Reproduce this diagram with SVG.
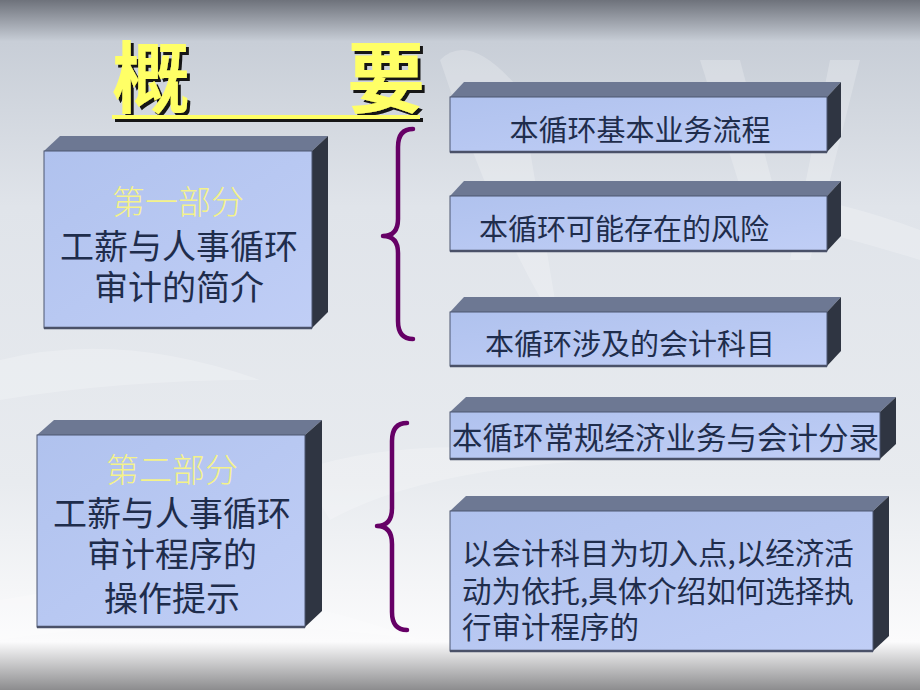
<svg xmlns="http://www.w3.org/2000/svg" width="920" height="690" viewBox="0 0 920 690">
<defs>
<linearGradient id="bg" x1="0" y1="0" x2="0" y2="1">
<stop offset="0" stop-color="#6e727b"/>
<stop offset="0.06" stop-color="#c8ced7"/>
<stop offset="0.3" stop-color="#e0e4ea"/>
<stop offset="0.7" stop-color="#e8ebef"/>
<stop offset="0.93" stop-color="#fbfbfc"/>
<stop offset="1" stop-color="#8c8c8e"/>
</linearGradient>
<linearGradient id="front" x1="0" y1="0" x2="1" y2="1">
<stop offset="0" stop-color="#b0c2ee"/>
<stop offset="1" stop-color="#c0cef6"/>
</linearGradient>
<filter id="shadow" x="-10%" y="-10%" width="130%" height="130%">
<feDropShadow dx="3" dy="3" stdDeviation="0.6" flood-color="#151515" flood-opacity="1"/>
</filter>
<style>
.front{fill:url(#front);stroke:#4c5670;stroke-width:1}
.top{fill:#6d7893}
.side{fill:#2f3542}
.edge{stroke:#4a5168;stroke-width:2.5}
.t{font-family:"Noto Sans CJK SC","Noto Sans",sans-serif;fill:#1f2d4c}
.y{font-family:"Noto Sans CJK SC","Noto Sans",sans-serif;fill:#f4f28a;font-weight:300}
.brace{fill:none;stroke:#660066;stroke-width:4.5;stroke-linecap:round;stroke-linejoin:round}
.leaf{fill:#ffffff;opacity:0.22}
</style>
</defs>
<rect width="920" height="690" fill="url(#bg)"/>
<g id="background-shapes">
<path class="leaf" d="M440,60 Q470,30 520,90 L560,330 Q500,240 440,60 Z"/>
<path class="leaf" d="M600,190 Q760,170 920,230 L920,260 Q760,210 600,190 Z"/>
<path class="leaf" d="M700,60 L760,250 L790,250 L740,60 Z"/>
<path class="leaf" d="M830,60 L790,260 L810,260 L860,60 Z"/>
<path class="leaf" d="M0,360 Q120,330 260,380 Q120,380 0,400 Z"/>
<path class="leaf" d="M300,470 Q420,430 600,460 Q420,470 330,520 Z"/>
<path class="leaf" d="M0,600 Q200,560 420,640 Q200,610 0,640 Z"/>
</g>
<g id="title" filter="url(#shadow)" fill="#ffff66">
<text x="112" y="107" font-family="Noto Sans CJK SC, sans-serif" font-size="78" font-weight="700">概</text>
<text x="347" y="107" font-family="Noto Sans CJK SC, sans-serif" font-size="78" font-weight="700">要</text>
<rect x="112" y="115" width="308" height="4"/>
</g>
<g id="part1">
<polygon class="top" points="44,151 60,136 328,136 312,151"/>
<polygon class="side" points="312,151 328,136 328,312 312,328"/>
<rect class="front" x="44" y="151" width="268" height="177"/>
<line class="edge" x1="44" y1="328" x2="312" y2="328"/>
<text class="y" x="178" y="214" font-size="33" text-anchor="middle">第一部分</text>
<text class="t" x="179" y="259" font-size="34" text-anchor="middle">工薪与人事循环</text>
<text class="t" x="179" y="300" font-size="34" text-anchor="middle">审计的简介</text>
</g>
<g id="part2">
<polygon class="top" points="37,435 54,420 322,420 305,435"/>
<polygon class="side" points="305,435 322,420 322,611 305,627"/>
<rect class="front" x="37" y="435" width="268" height="192"/>
<line class="edge" x1="37" y1="627" x2="305" y2="627"/>
<text class="y" x="172" y="482" font-size="33" text-anchor="middle">第二部分</text>
<text class="t" x="172" y="526" font-size="34" text-anchor="middle">工薪与人事循环</text>
<text class="t" x="172" y="567" font-size="34" text-anchor="middle">审计程序的</text>
<text class="t" x="172" y="611" font-size="34" text-anchor="middle">操作提示</text>
</g>
<g id="connectors">
<path class="brace" d="M413,129 Q398,129 398,147 L398,219 Q398,236 383,236 Q398,236 398,253 L398,321 Q398,339 413,339"/>
<path class="brace" d="M407,423 Q392,423 392,441 L392,508 Q392,526 377,526 Q392,526 392,544 L392,612 Q392,630 407,630"/>
</g>
<g id="item1">
<polygon class="top" points="450,97 464,82 841,82 827,97"/>
<polygon class="side" points="827,97 841,82 841,137 827,152"/>
<rect class="front" x="450" y="97" width="377" height="55"/>
<line class="edge" x1="450" y1="152" x2="827" y2="152"/>
<text class="t" x="640" y="141" font-size="29" text-anchor="middle">本循环基本业务流程</text>
</g>
<g id="item2">
<polygon class="top" points="450,196 464,181 841,181 827,196"/>
<polygon class="side" points="827,196 841,181 841,236 827,251"/>
<rect class="front" x="450" y="196" width="377" height="55"/>
<line class="edge" x1="450" y1="251" x2="827" y2="251"/>
<text class="t" x="624" y="240" font-size="29" text-anchor="middle">本循环可能存在的风险</text>
</g>
<g id="item3">
<polygon class="top" points="450,312 464,297 841,297 827,312"/>
<polygon class="side" points="827,312 841,297 841,351 827,366"/>
<rect class="front" x="450" y="312" width="377" height="54"/>
<line class="edge" x1="450" y1="366" x2="827" y2="366"/>
<text class="t" x="630" y="355" font-size="29" text-anchor="middle">本循环涉及的会计科目</text>
</g>
<g id="item4">
<polygon class="top" points="450,412 466,397 896,397 880,412"/>
<polygon class="side" points="880,412 896,397 896,444 880,459"/>
<rect class="front" x="450" y="412" width="430" height="47"/>
<line class="edge" x1="450" y1="459" x2="880" y2="459"/>
<text class="t" x="452" y="449" font-size="30.5">本循环常规经济业务与会计分录</text>
</g>
<g id="item5">
<polygon class="top" points="450,511 466,496 889,496 873,511"/>
<polygon class="side" points="873,511 889,496 889,636 873,651"/>
<rect class="front" x="450" y="511" width="423" height="140"/>
<line class="edge" x1="450" y1="651" x2="873" y2="651"/>
<text class="t" x="462" y="564" font-size="29.5">以会计科目为切入点,以经济活</text>
<text class="t" x="462" y="602" font-size="29.5">动为依托,具体介绍如何选择执</text>
<text class="t" x="462" y="638" font-size="29.5">行审计程序的</text>
</g>
</svg>
